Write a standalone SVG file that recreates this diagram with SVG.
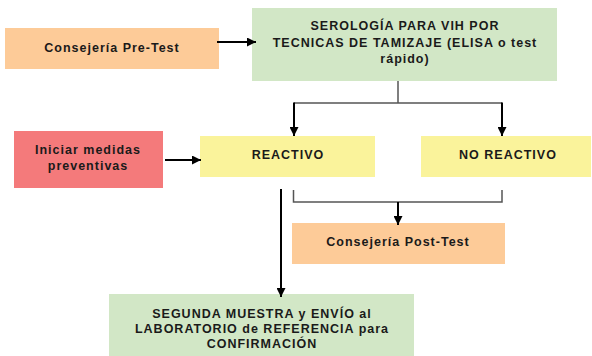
<svg xmlns="http://www.w3.org/2000/svg" width="592" height="356" viewBox="0 0 592 356">
<defs>
<marker id="ah" viewBox="0 0 10 10" refX="10" refY="5" markerWidth="9" markerHeight="9" orient="auto" markerUnits="userSpaceOnUse">
<path d="M0,0 L10,5 L0,10 z" fill="#000"/>
</marker>
<style>
text{font-family:"Liberation Sans",Arial,sans-serif;font-weight:bold;font-size:12.5px;fill:#1a1a1a;text-anchor:middle;letter-spacing:1px}
.orange{fill:#FDCB98}
.green{fill:#D2E7C6}
.red{fill:#F47A7B}
.yellow{fill:#FAF39B}
.arr{stroke:#000;stroke-width:2;fill:none;marker-end:url(#ah)}
.thin{stroke:#555;stroke-width:1.5;fill:none}
</style>
</defs>
<rect width="592" height="356" fill="#fff"/>
<g id="pretest">
<rect class="orange" x="5" y="28" width="214" height="41"/>
<text x="112" y="52">Consejería Pre-Test</text>
</g>
<g id="serologia">
<rect class="green" x="252" y="8" width="305" height="73"/>
<text x="405" y="30">SEROLOGÍA PARA VIH POR</text>
<text x="405" y="47">TECNICAS DE TAMIZAJE (ELISA o test</text>
<text x="405" y="63">rápido)</text>
</g>
<g id="iniciar">
<rect class="red" x="14" y="131" width="149" height="57"/>
<text x="88" y="154">Iniciar medidas</text>
<text x="88" y="170">preventivas</text>
</g>
<g id="reactivo">
<rect class="yellow" x="200" y="136" width="175" height="41"/>
<text x="288" y="159">REACTIVO</text>
</g>
<g id="noreactivo">
<rect class="yellow" x="421" y="136" width="170" height="41"/>
<text x="508" y="159">NO REACTIVO</text>
</g>
<g id="posttest">
<rect class="orange" x="292" y="223" width="213" height="41"/>
<text x="398" y="246">Consejería Post-Test</text>
</g>
<g id="segunda">
<rect class="green" x="109" y="294" width="305" height="62"/>
<text x="262" y="318">SEGUNDA MUESTRA y ENVÍO al</text>
<text x="262" y="333">LABORATORIO de REFERENCIA para</text>
<text x="262" y="348">CONFIRMACIÓN</text>
</g>
<g id="connectors">
<line class="arr" x1="217" y1="42" x2="256" y2="42"/>
<line class="thin" x1="398" y1="81" x2="398" y2="103"/>
<polyline class="thin" points="294,103 502,103"/>
<line class="arr" x1="294" y1="102.5" x2="294" y2="136"/>
<line class="arr" x1="502" y1="102.5" x2="502" y2="136"/>
<line class="arr" x1="165" y1="160" x2="201" y2="160"/>
<polyline class="thin" points="293.5,190 293.5,202 502,202 502,190"/>
<line class="arr" x1="398" y1="202" x2="398" y2="225"/>
<line class="arr" x1="281" y1="189" x2="281" y2="297"/>
</g>
</svg>
